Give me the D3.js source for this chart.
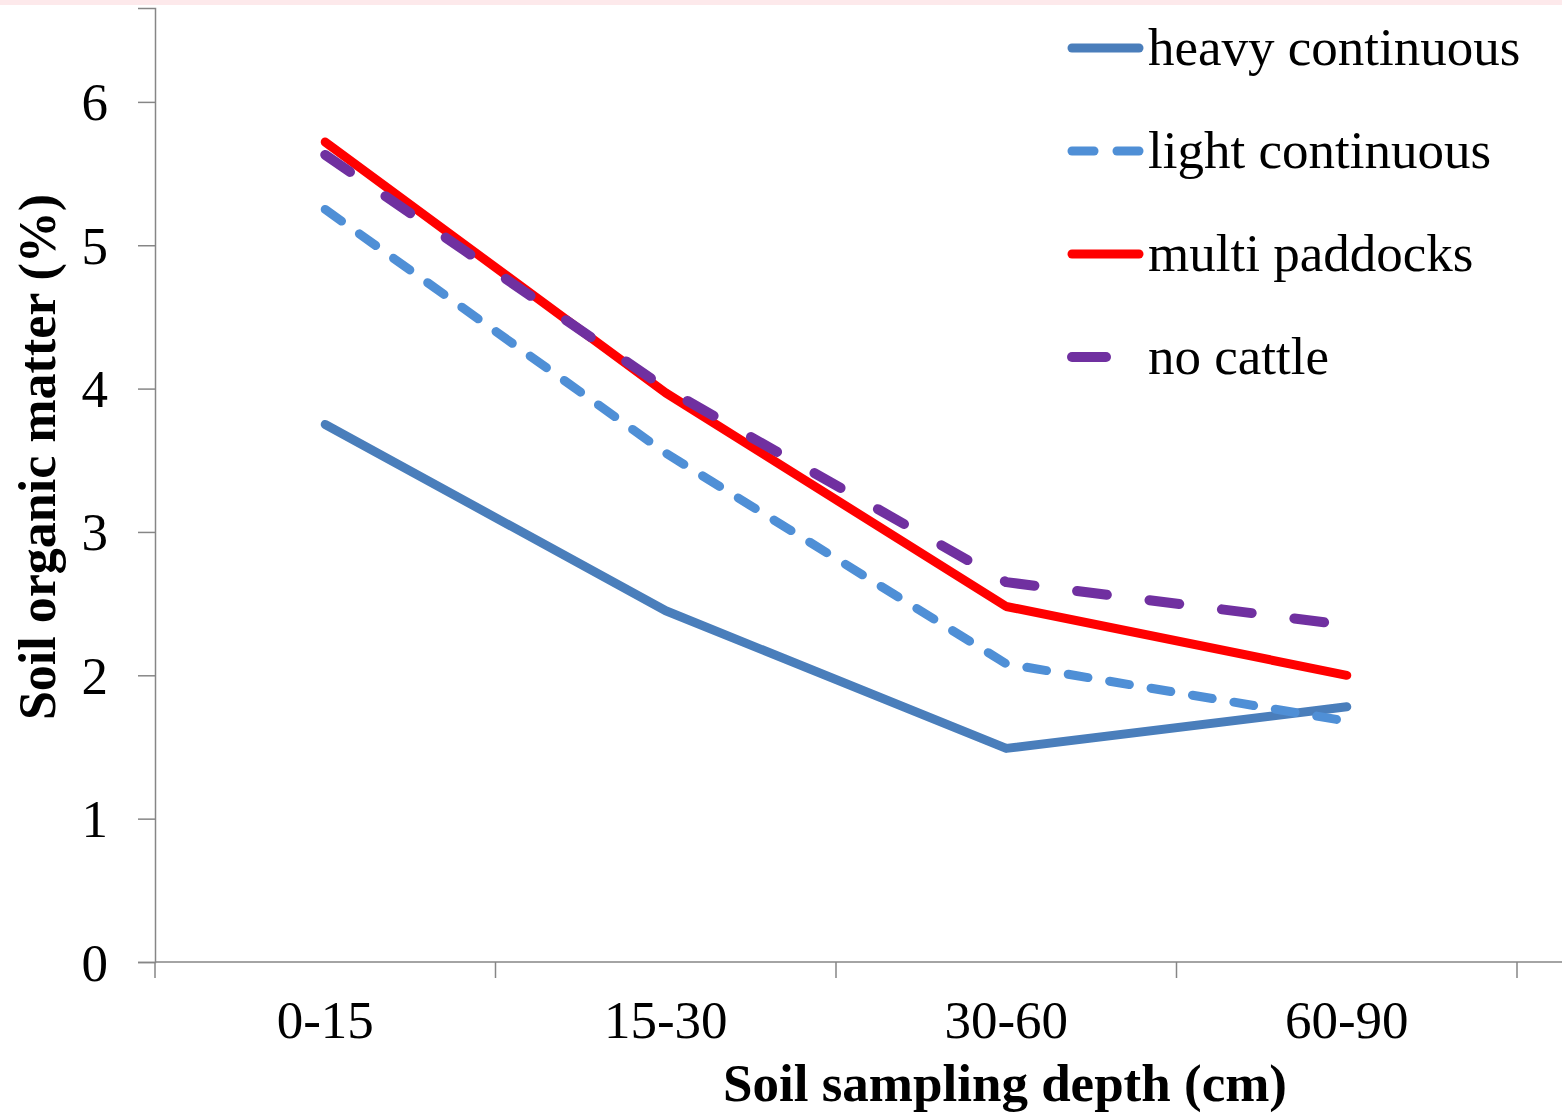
<!DOCTYPE html>
<html><head><meta charset="utf-8">
<script src="https://cdn.jsdelivr.net/npm/d3@7"></script>
<style>
html,body{margin:0;padding:0;background:#fff;}
svg{display:block;}
text{font-family:"Liberation Serif","Times New Roman",serif;fill:#000;}
</style></head>
<body>
<svg id="chart" width="1562" height="1116"></svg>
<script>
const categories = ["0-15","15-30","30-60","60-90"];
const heavyContinuous = [3.75, 2.45, 1.49, 1.78];
const lightContinuous = [5.25, 3.55, 2.08, 1.68];
const multiPaddocks   = [5.72, 3.97, 2.48, 2.00];
const noCattle        = [5.63, 4.00, 2.65, 2.35];
const yTicks = [0,1,2,3,4,5,6];
const seriesNames = ["heavy continuous","light continuous","multi paddocks","no cattle"];

const series = [
  {name: seriesNames[0], values: heavyContinuous, color:"#4a7ebb", dash:null, w:9},
  {name: seriesNames[1], values: lightContinuous, color:"#4f8fd6", dash:"20,22", w:9},
  {name: seriesNames[2], values: multiPaddocks, color:"#ff0000", dash:null, w:9},
  {name: seriesNames[3], values: noCattle, color:"#7030a0", dash:"30,43", w:10}
];

const svg = d3.select("#chart");
svg.append("rect").attr("x",0).attr("y",0).attr("width",1562).attr("height",5).attr("fill","#fde9eb");

const x = d3.scaleBand().domain(categories).range([155,1517]);
const y = d3.scaleLinear().domain([0,6.655]).range([962,8]);
const axisColor = "#868686";

// Y axis
const yAxis = svg.append("g").attr("transform","translate(155,0)")
  .call(d3.axisLeft(y).tickValues(yTicks).tickSize(17).tickPadding(30).tickFormat(d3.format("d")));
yAxis.select(".domain").attr("stroke",axisColor).attr("stroke-width",1.5);
yAxis.selectAll(".tick line").attr("stroke",axisColor).attr("stroke-width",1.5);
yAxis.selectAll(".tick text").attr("font-size",53).attr("font-family","Liberation Serif").attr("fill","#000").attr("dy","0.34em");

// X axis
const xAxis = svg.append("g").attr("transform","translate(0,962)")
  .call(d3.axisBottom(x).tickSize(0).tickPadding(38));
xAxis.select(".domain").remove();
xAxis.selectAll(".tick text").attr("font-size",53).attr("font-family","Liberation Serif").attr("fill","#000");
svg.append("line").attr("x1",155).attr("x2",1562).attr("y1",962).attr("y2",962)
  .attr("stroke",axisColor).attr("stroke-width",1.5);
const bounds = categories.map(c => x(c)).concat([x.range()[1]]);
svg.selectAll(".xtick").data(bounds).enter().append("line")
  .attr("x1",d=>d).attr("x2",d=>d).attr("y1",962).attr("y2",978)
  .attr("stroke",axisColor).attr("stroke-width",1.5);

// Lines
const line = d3.line().x((d,i)=>x(categories[i])+x.bandwidth()/2).y(d=>y(d));
series.forEach(s=>{
  svg.append("path").datum(s.values).attr("d",line)
    .attr("fill","none").attr("stroke",s.color).attr("stroke-width",s.w)
    .attr("stroke-linecap","round").attr("stroke-linejoin","round")
    .attr("stroke-dasharray",s.dash);
});

// Axis titles
svg.append("text").attr("x",1005).attr("y",1101).attr("text-anchor","middle")
  .attr("font-size",53).attr("font-weight","bold").text("Soil sampling depth (cm)");
svg.append("text").attr("transform","translate(55,457) rotate(-90)").attr("text-anchor","middle")
  .attr("font-size",52).attr("font-weight","bold").text("Soil organic matter (%)");

// Legend
const legendY = [48,151,254,357];
series.forEach((s,i)=>{
  const g = svg.append("g").attr("transform",`translate(0,${legendY[i]})`);
  if (i===0 || i===2) {
    g.append("line").attr("x1",1072).attr("x2",1139).attr("y1",0).attr("y2",0)
      .attr("stroke",s.color).attr("stroke-width",s.w).attr("stroke-linecap","round");
  } else if (i===1) {
    g.append("line").attr("x1",1072).attr("x2",1094).attr("y1",0).attr("y2",0)
      .attr("stroke",s.color).attr("stroke-width",s.w).attr("stroke-linecap","round");
    g.append("line").attr("x1",1117).attr("x2",1139).attr("y1",0).attr("y2",0)
      .attr("stroke",s.color).attr("stroke-width",s.w).attr("stroke-linecap","round");
  } else {
    g.append("line").attr("x1",1072).attr("x2",1106).attr("y1",0).attr("y2",0)
      .attr("stroke",s.color).attr("stroke-width",s.w).attr("stroke-linecap","round");
  }
  g.append("text").attr("x",1148).attr("y",0).attr("dy","0.32em")
    .attr("font-size",53).text(s.name);
});
</script>
</body></html>
